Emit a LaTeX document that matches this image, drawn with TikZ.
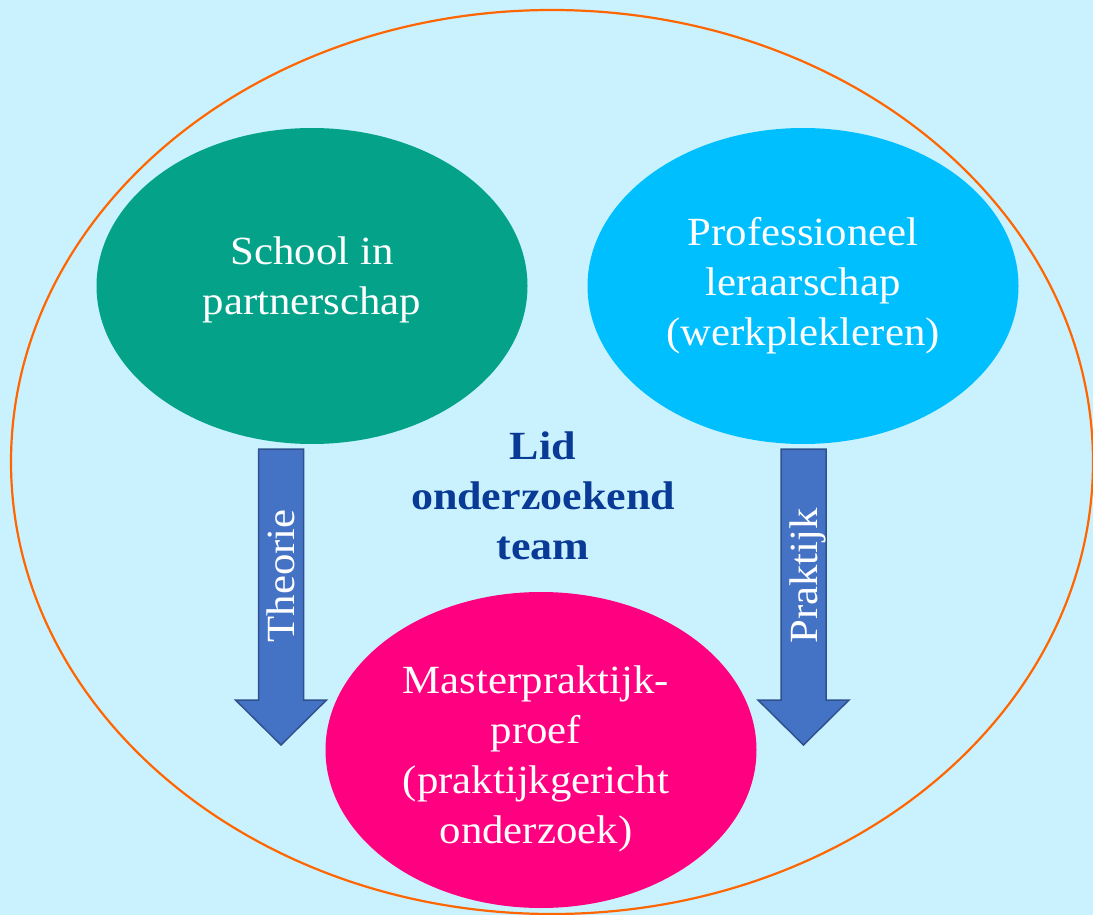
\documentclass[tikz,border=0pt]{standalone}
\usepackage{fontspec}
\setmainfont{Liberation Serif}[FakeStretch=1.07]
\newfontfamily\lidfont{Liberation Serif}[FakeStretch=1.1]
\usetikzlibrary{shapes,arrows,positioning}

\definecolor{bgcyan}{RGB}{202,242,254}
\definecolor{ringorange}{RGB}{255,102,0}
\definecolor{schoolgreen}{RGB}{4,163,137}
\definecolor{profcyan}{RGB}{0,191,255}
\definecolor{masterpink}{RGB}{255,0,128}
\definecolor{arrowblue}{RGB}{68,114,196}
\definecolor{arrowline}{RGB}{47,82,143}
\definecolor{lidblue}{RGB}{8,58,150}

\begin{document}
\begin{tikzpicture}[x=1pt,y=-1pt,
    blob/.style={ellipse,minimum width=431pt,minimum height=316pt,inner sep=0pt},
    blobtext/.style={align=center,text=white,font=\fontsize{40}{50}\selectfont},
    bigarrow/.style={draw=arrowline,line width=1.5pt,fill=arrowblue,line join=miter},
    arrowtext/.style={rotate=90,inner sep=0pt,text=white,text height=27pt,text depth=0pt,
        font=\fontsize{40}{50}\selectfont}]

    \fill[bgcyan] (0,0) rectangle (1093,915);
    \useasboundingbox (0,0) rectangle (1093,915);

    \node[draw=ringorange,line width=2.2pt,ellipse,minimum width=1082pt,minimum height=904pt,inner sep=0pt](ring) at (552,462){};

    \node[blob,fill=schoolgreen](school) at (312,286){};
    \node[blob,fill=profcyan](prof) at (803,286){};
    \node[blob,fill=masterpink](master) at (541,750){};

    \node[blobtext](schooltext) at (312,280){School in\\partnerschap};
    \node[blobtext](proftext) at (803,286){Professioneel\\leraarschap\\(werkplekleren)};
    \node[blobtext](mastertext) at (536,759){Masterpraktijk-\\proef\\(praktijkgericht\\onderzoek)};

    \node[align=center,text=lidblue,font=\fontsize{40}{50}\lidfont\bfseries](lid) at (543,496){Lid\\onderzoekend\\team};

    \foreach \ax/\txt/\nm in {281/Theorie/theorie,803.5/Praktijk/praktijk}{
        \draw[bigarrow] (\ax-22.5,449) -- (\ax+22.5,449) -- (\ax+22.5,700) -- (\ax+45.5,700)
            -- (\ax,745) -- (\ax-45.5,700) -- (\ax-22.5,700) -- cycle;
        \node[arrowtext](\nm) at (\ax,576){\txt};
    }
\end{tikzpicture}
\end{document}
